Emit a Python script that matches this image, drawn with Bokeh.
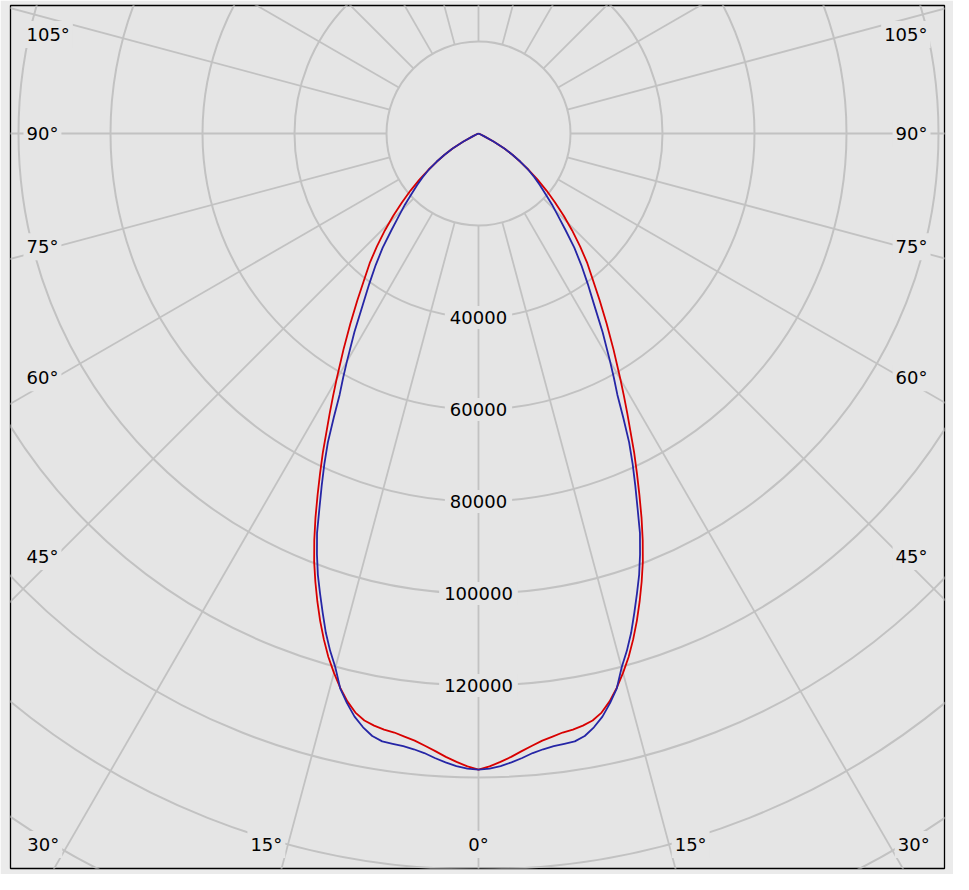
import numpy as np
from bokeh.plotting import figure
from bokeh.models import Range1d
from bokeh.embed import file_html
from bokeh.resources import INLINE
from bokeh.core.properties import value

# ---- data (luminous intensity, cd) ----
gamma = list(range(0, 31)) + list(range(32, 67, 2)) + [70, 75, 80, 85, 90]
red_cd = [138300, 137600, 136700, 135700, 134600, 133600, 132700, 132100, 131500, 131200,
          130700, 130000, 128700, 126700, 124200, 121400, 118400, 115000, 111400, 107600,
          103700, 99700, 95300, 90700, 86000, 81500, 77200, 72800, 68900, 65200, 61700,
          55400, 49800, 44800, 40400, 36800, 33000, 29300, 25800, 22400, 19300, 16300,
          13500, 10900, 8700, 6500, 3700, 1300, 300,
          0, 0, 0, 0, 0]
blue_cd = [138300, 138100, 137600, 136900, 136100, 135200, 134600, 134200, 134000, 133800,
           133000, 131500, 129600, 127100, 124300, 120200, 117000, 113500, 109600, 105800,
           102100, 98000, 93700, 88500, 83800, 79300, 74700, 69300, 64300, 60700, 57200,
           50900, 45000, 40400, 36300, 32400, 28300, 24900, 22200, 19500, 17400, 15400,
           13300, 11000, 8700, 6500, 3700, 1300, 300,
           0, 0, 0, 0, 0]
ring_values = [20000, 40000, 60000, 80000, 100000, 120000, 140000, 160000, 180000, 200000, 220000]
ring_labels = [40000, 60000, 80000, 100000, 120000]
spoke_angles = list(range(0, 360, 15))
angle_labels = [0, 15, 30, 45, 60, 75, 90, 105]

# ---- styling ----
BG = "#e5e5e5"
OUTER = "#ebebeb"
GRID = "#c2c2c2"
RED = "#d80000"
BLUE = "#2626a6"
FONT = value("DejaVu Sans")
FS = "18px"

S = 20000 / 92.0  # cd per screen pixel

p = figure(width=953, height=874,
           x_range=Range1d(-468 * S, 466 * S), y_range=Range1d(-735 * S, 128 * S),
           output_backend="svg", toolbar_location=None,
           x_axis_location=None, y_axis_location=None,
           min_border_left=10, min_border_right=9, min_border_top=5, min_border_bottom=6,
           background_fill_color=BG, border_fill_color=OUTER,
           outline_line_color="black", outline_line_width=1.3)
p.grid.visible = False

# rings
n = len(ring_values)
p.circle(x=[0] * n, y=[0] * n, radius=ring_values, fill_color=None,
         line_color=GRID, line_width=2)

# spokes from the first ring outwards
a = np.radians(spoke_angles)
r0 = ring_values[0]
r1 = 400000
p.segment(x0=r0 * np.sin(a), y0=-r0 * np.cos(a), x1=r1 * np.sin(a), y1=-r1 * np.cos(a),
          line_color=GRID, line_width=1.8)

# curves: left half mirrored, right half
def curve(vals):
    g = np.radians(np.array(gamma, dtype=float))
    v = np.array(vals, dtype=float)
    xl = -v[::-1] * np.sin(g[::-1])
    yl = -v[::-1] * np.cos(g[::-1])
    xr = v[1:] * np.sin(g[1:])
    yr = -v[1:] * np.cos(g[1:])
    return np.concatenate([xl, xr]), np.concatenate([yl, yr])

xr_, yr_ = curve(red_cd)
p.line(xr_, yr_, line_color=RED, line_width=1.8, line_join="round")
xb_, yb_ = curve(blue_cd)
p.line(xb_, yb_, line_color=BLUE, line_width=1.8, line_join="round")

# ring labels along the 0 deg spoke
p.text(x=[0] * len(ring_labels), y=[-v for v in ring_labels], text=[str(v) for v in ring_labels],
       text_font=FONT, text_font_size=FS, text_color="black",
       text_align="center", text_baseline="middle",
       background_fill_color=BG, padding=5)

# angle labels
side_dx = 423 * S
bottom_y_line = -721 * S
bottom_y_text = -711 * S
top_clamp = 99 * S
left_text_x = -455 * S
right_text_x = 452 * S

groups = {"bl": ([], [], []), "br": ([], [], []), "bc": ([], [], []),
          "sl": ([], [], []), "sr": ([], [], [])}
for ang in angle_labels:
    t = np.radians(ang)
    lab = f"{ang}\u00b0"
    if ang == 0:
        groups["bc"][0].append(0.0); groups["bc"][1].append(bottom_y_text); groups["bc"][2].append(lab)
        continue
    xb = -bottom_y_line * np.tan(t)
    if ang < 90 and xb < 440 * S:
        groups["bl"][0].append(-xb); groups["bl"][1].append(bottom_y_text); groups["bl"][2].append(lab)
        groups["br"][0].append(xb); groups["br"][1].append(bottom_y_text); groups["br"][2].append(lab)
    else:
        y = -side_dx * np.cos(t) / np.sin(t)
        y = min(y, top_clamp)
        groups["sl"][0].append(left_text_x); groups["sl"][1].append(y); groups["sl"][2].append(lab)
        groups["sr"][0].append(right_text_x); groups["sr"][1].append(y); groups["sr"][2].append(lab)

aligns = {"bl": "right", "br": "left", "bc": "center", "sl": "left", "sr": "right"}
for k, (xs, ys, ts) in groups.items():
    p.text(x=xs, y=ys, text=ts, text_font=FONT, text_font_size=FS, text_color="black",
           text_align=aligns[k], text_baseline="middle",
           background_fill_color=BG, padding=3)

open("out.html", "w").write(file_html(p, INLINE))
